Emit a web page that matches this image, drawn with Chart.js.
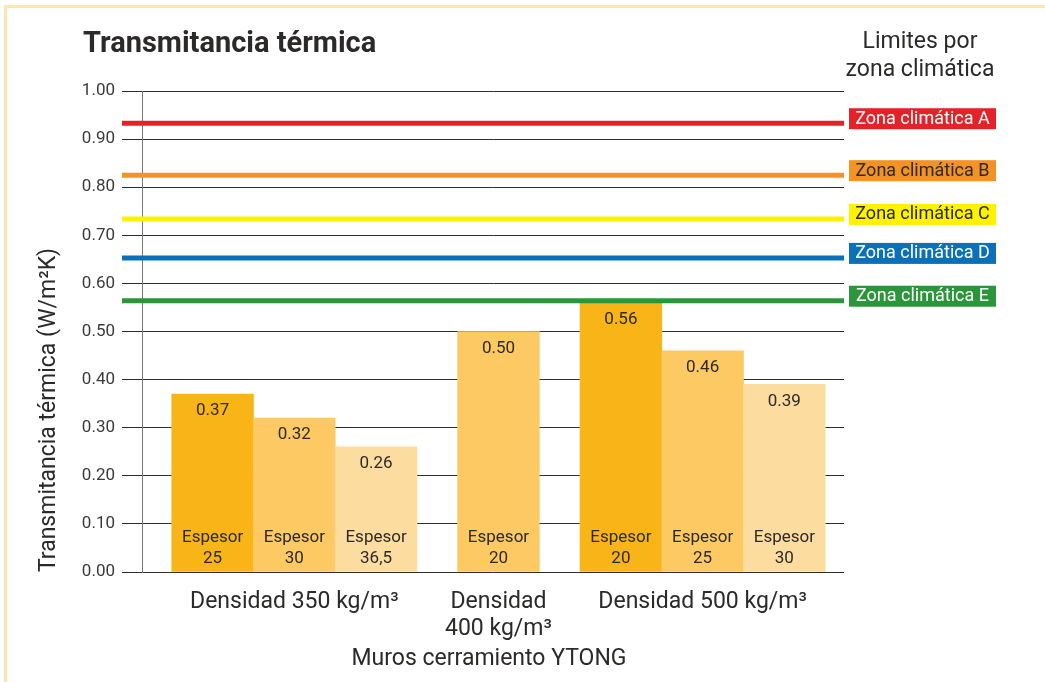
<!DOCTYPE html>
<html lang="es">
<head>
<meta charset="utf-8">
<title>Transmitancia térmica</title>
<script src="https://cdn.jsdelivr.net/npm/chart.js@4/dist/chart.umd.min.js"></script>
<style>
  html, body { margin: 0; padding: 0; background: #fff; }
  #wrap { position: relative; width: 1045px; height: 682px; overflow: hidden; }
  #marco { position: absolute; left: 4px; top: 5px; width: 1100px; height: 720px;
           border-left: 3px solid #fde6b2; border-top: 3px solid #fde6b2; }
  #grafico { position: absolute; left: 0; top: 0; }
</style>
</head>
<body>
<div id="wrap">
  <div id="marco"></div>
  <canvas id="grafico" width="1045" height="682"></canvas>
</div>
<script>
// datos
const grupos = ['Densidad 350 kg/m³', 'Densidad\n400 kg/m³', 'Densidad 500 kg/m³'];
const espesores = [['25', '30', '36,5'], ['20'], ['20', '25', '30']];
const valores = [[0.37, 0.32, 0.26], [0.50], [0.56, 0.46, 0.39]];
const zonas = ['Zona climática A', 'Zona climática B', 'Zona climática C', 'Zona climática D', 'Zona climática E'];
const limites = [0.933, 0.825, 0.734, 0.653, 0.564];

// estilos
const tonosGrupo = [['#f9b517', '#fcc962', '#fddc9f'], ['#fcc962'], ['#f9b517', '#fcc962', '#fddc9f']];
const coloresZona = ['#e42229', '#f39325', '#fff200', '#0a71b8', '#2b9539'];
const textoZona = ['#ffffff', '#2b2a29', '#2b2a29', '#ffffff', '#ffffff'];
const TEXTO = '#2b2a29';
const FUENTE = 'Roboto, "Liberation Sans", sans-serif';

// posiciones en unidades de barra: margen inicial y hueco entre grupos
const margenInicial = 0.364;
const huecoGrupo = 0.498;
const ejeMax = 8.59;

const puntos = [], colores = [], etiquetasEsp = [], centrosGrupo = [];
let n = 0;
valores.forEach((g, gi) => {
  const xs = [];
  g.forEach((v, bi) => {
    const x = margenInicial + n + gi * huecoGrupo + 0.5;
    puntos.push({ x: x, y: v });
    colores.push(tonosGrupo[gi][bi]);
    etiquetasEsp.push(espesores[gi][bi]);
    xs.push(x);
    n++;
  });
  centrosGrupo.push((xs[0] + xs[xs.length - 1]) / 2);
});

const textos = {
  id: 'textos',
  afterDatasetsDraw(chart) {
    const { ctx, chartArea, scales: { x, y } } = chart;
    ctx.save();

    // valores y espesores dentro de las barras
    const meta = chart.getDatasetMeta(0);
    ctx.fillStyle = TEXTO;
    ctx.textAlign = 'center';
    ctx.textBaseline = 'middle';
    meta.data.forEach((bar, i) => {
      ctx.font = '17px ' + FUENTE;
      ctx.fillText(puntos[i].y.toFixed(2), bar.x, bar.y + 17);
      ctx.fillText('Espesor', bar.x, chartArea.bottom - 34);
      ctx.fillText(etiquetasEsp[i], bar.x, chartArea.bottom - 13);
    });

    // líneas límite por zona climática
    limites.forEach((v, i) => {
      const py = y.getPixelForValue(v);
      ctx.strokeStyle = coloresZona[i];
      ctx.lineWidth = 5;
      ctx.beginPath();
      ctx.moveTo(chartArea.left - 20, py);
      ctx.lineTo(chartArea.right, py);
      ctx.stroke();
      ctx.fillStyle = coloresZona[i];
      ctx.fillRect(chartArea.right + 5, py - 15, 147, 21);
      ctx.fillStyle = textoZona[i];
      ctx.font = '18px ' + FUENTE;
      ctx.fillText(zonas[i], chartArea.right + 5 + 73.5, py - 4);
    });

    // categorías
    ctx.fillStyle = TEXTO;
    ctx.font = '23px ' + FUENTE;
    grupos.forEach((g, gi) => {
      const cx = x.getPixelForValue(centrosGrupo[gi]);
      g.split('\n').forEach((linea, li) => {
        ctx.fillText(linea, cx, chartArea.bottom + 30 + li * 27);
      });
    });
    ctx.fillText('Muros cerramiento YTONG', (chartArea.left + chartArea.right) / 2 - 4, chartArea.bottom + 87);

    // títulos
    ctx.fillText('Limites por', 920, 42);
    ctx.fillText('zona climática', 920, 70);

    ctx.font = 'bold 29px ' + FUENTE;
    ctx.textAlign = 'left';
    ctx.textBaseline = 'alphabetic';
    ctx.fillText('Transmitancia térmica', 83, 52);

    ctx.translate(49, 410);
    ctx.rotate(-Math.PI / 2);
    ctx.textAlign = 'center';
    ctx.textBaseline = 'middle';
    ctx.font = '23px ' + FUENTE;
    ctx.fillText('Transmitancia térmica (W/m²K)', 0, 0);
    ctx.restore();
  }
};

new Chart(document.getElementById('grafico'), {
  type: 'bar',
  data: {
    datasets: [{
      data: puntos,
      backgroundColor: colores,
      borderWidth: 0,
      barPercentage: 1,
      categoryPercentage: 1
    }]
  },
  options: {
    responsive: false,
    animation: false,
    layout: { padding: { left: 0, right: 201, top: 91, bottom: 110 } },
    plugins: { legend: { display: false }, tooltip: { enabled: false } },
    scales: {
      x: {
        type: 'linear',
        display: false,
        offset: false,
        min: 0,
        max: ejeMax,
        // sin marcas en x: el ancho de barra sale del paso entre barras
        afterBuildTicks(scale) { scale.ticks = []; }
      },
      y: {
        min: 0,
        max: 1,
        afterFit(scale) { scale.width = 142; },
        ticks: {
          stepSize: 0.1,
          padding: 7,
          color: '#3a3a3a',
          font: { family: FUENTE, size: 17 },
          callback: v => v.toFixed(2)
        },
        grid: { color: '#2e2e2e', lineWidth: 1, tickLength: 20, tickColor: '#2e2e2e' },
        border: { color: '#777777', width: 1 }
      }
    }
  },
  plugins: [textos]
});
</script>
</body>
</html>
